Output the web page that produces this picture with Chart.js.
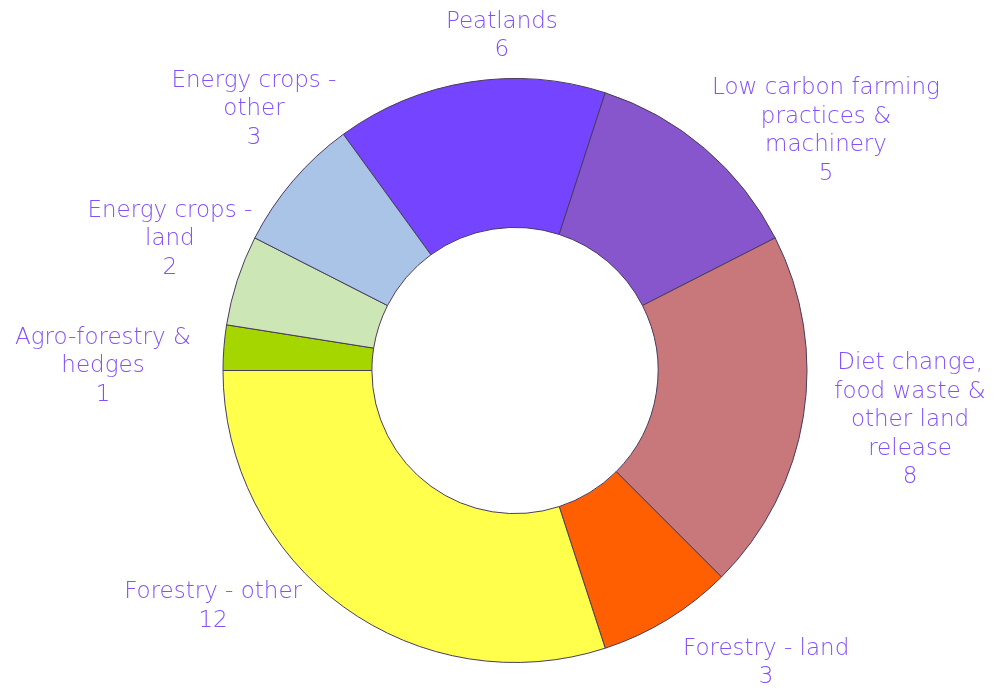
<!DOCTYPE html>
<html>
<head>
<meta charset="utf-8">
<script src="https://cdn.jsdelivr.net/npm/chart.js@4/dist/chart.umd.min.js"></script>
<style>
  html, body { margin: 0; padding: 0; background: #ffffff; }
  #wrap { width: 1006px; height: 689px; position: relative; }
</style>
</head>
<body>
<div id="wrap"><canvas id="c" width="1006" height="689"></canvas></div>
<script>
// ---- data ----
const categories = [
  ["Peatlands"],
  ["Low carbon farming", "practices &", "machinery"],
  ["Diet change,", "food waste &", "other land", "release"],
  ["Forestry - land"],
  ["Forestry - other"],
  ["Agro-forestry &", "hedges"],
  ["Energy crops -", "land"],
  ["Energy crops -", "other"]
];
const values = [6, 5, 8, 3, 12, 1, 2, 3];

// ---- styling / layout (not data) ----
const colors = ["#7544ff", "#8856cc", "#c8777b", "#ff5f00", "#ffff4c", "#a6d600", "#cde6b5", "#aac4e8"];
// label block centres, in units of the outer radius, relative to the doughnut centre
const labelPos = [
  [-0.045, -1.146],
  [1.065, -0.820],
  [1.353, 0.171],
  [0.860, 1.002],
  [-1.034, 0.808],
  [-1.411, -0.015],
  [-1.182, -0.450],
  [-0.894, -0.894]
];
const labelColor = "#8350fb";
const labelFont = "200 23px 'DejaVu Sans'";
const lineHeight = 28.5;

const outsideLabels = {
  id: 'outsideLabels',
  afterDatasetsDraw(chart) {
    const ctx = chart.ctx;
    const meta = chart.getDatasetMeta(0);
    ctx.save();
    ctx.font = labelFont;
    ctx.fillStyle = labelColor;
    ctx.textAlign = 'center';
    ctx.textBaseline = 'middle';
    meta.data.forEach((arc, i) => {
      const R = arc.outerRadius;
      const cx = arc.x + labelPos[i][0] * R;
      const cy = arc.y + labelPos[i][1] * R;
      const lines = categories[i].concat([String(values[i])]);
      const y0 = cy - (lines.length - 1) * lineHeight / 2;
      lines.forEach((t, k) => ctx.fillText(t, cx, y0 + k * lineHeight));
    });
    ctx.restore();
  }
};

new Chart(document.getElementById('c'), {
  type: 'doughnut',
  data: {
    labels: categories,
    datasets: [{
      data: values,
      backgroundColor: colors,
      borderColor: "#4a3b5c",
      borderWidth: 1,
      borderAlign: 'center'
    }]
  },
  options: {
    responsive: false,
    animation: false,
    rotation: -36,
    cutout: '49%',
    layout: { padding: { top: 78, bottom: 26, left: 24, right: 0 } },
    plugins: {
      legend: { display: false },
      tooltip: { enabled: false }
    }
  },
  plugins: [outsideLabels]
});
</script>
</body>
</html>
